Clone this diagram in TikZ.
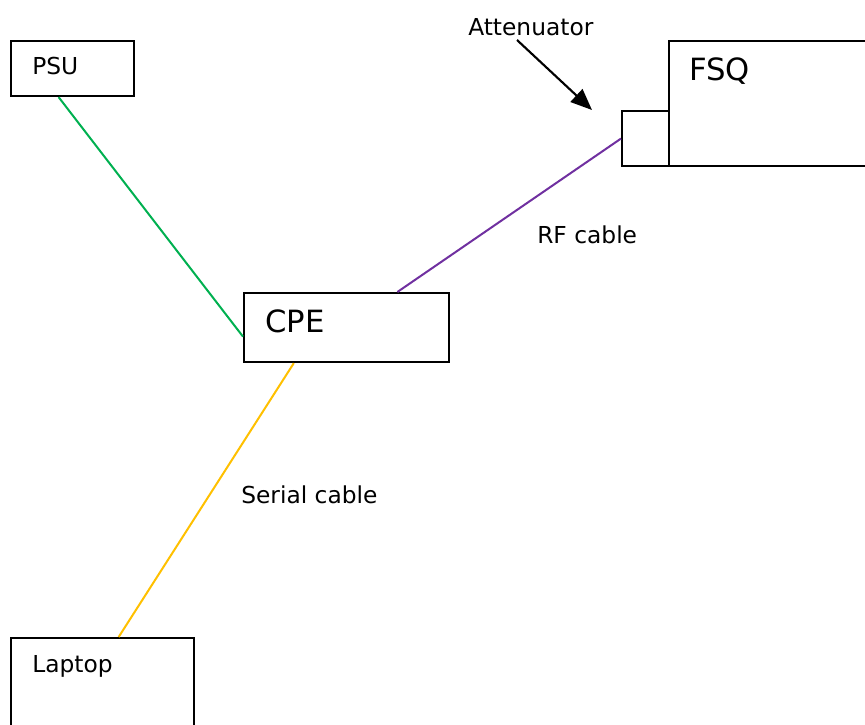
\documentclass[tikz,border=0pt]{standalone}
\usepackage{fontspec}
\setmainfont{DejaVu Sans}
\usetikzlibrary{arrows.meta}

\definecolor{cableGreen}{HTML}{00B050}
\definecolor{cablePurple}{HTML}{7030A0}
\definecolor{cableYellow}{HTML}{FFC000}

\begin{document}
\begin{tikzpicture}
[x=0.75pt,y=-0.75pt,
  boxDecorate/.style={shape=rectangle,draw,line width=1.6pt,inner sep=0pt,anchor=north west},%
  textDecorate/.style={inner sep=0pt,anchor=base west,font=\fontsize{17.5}{21}\selectfont},%
  bigDecorate/.style={textDecorate,font=\fontsize{23}{27}\selectfont},%
  cableDecorate/.style={-,line width=1.5pt},%
  arrowDecorate/.style={-{Triangle[length=16pt,width=13pt]},line width=1.6pt}]
\clip (0,0) rectangle (865,725);
%% boxes
\foreach \nodename/\x/\y/\w/\h in {
  psu/10/40/123/55, cpe/243/292/205/69, att/621/110/47/55,
  fsq/668/40/220/125, laptop/10/637/183/110}
{
  \node (\nodename) at (\x,\y) [boxDecorate,minimum width=\w*0.75pt,minimum height=\h*0.75pt] {};
}
%% box names
\node (psuText) at ([shift={(22,34)}]psu.north west) [textDecorate] {PSU};
\node (laptopText) at ([shift={(22,35)}]laptop.north west) [textDecorate] {Laptop};
\node (cpeText) at ([shift={(22,40)}]cpe.north west) [bigDecorate] {CPE};
\node (fsqText) at ([shift={(21,40)}]fsq.north west) [bigDecorate] {FSQ};
%% cable names
\node (attText) at (468,35) [textDecorate] {Attenuator};
\node (rfText) at (537,243) [textDecorate] {RF cable};
\node (serialText) at (241,503) [textDecorate] {Serial cable};
%% cables
\foreach \startnode/\endnode/\col in {
  psu.244/cpe.185.3/cableGreen, cpe.35.4/att.west/cablePurple,
  cpe.214.9/laptop.74.3/cableYellow}
{
  \draw[cableDecorate,\col] (\startnode) -- (\endnode);
}
%% pointer to the attenuator
\coordinate (attTail) at (517,40);
\coordinate (attTip) at (592,110);
\draw[arrowDecorate] (attTail) -- (attTip);
\end{tikzpicture}
\end{document}
